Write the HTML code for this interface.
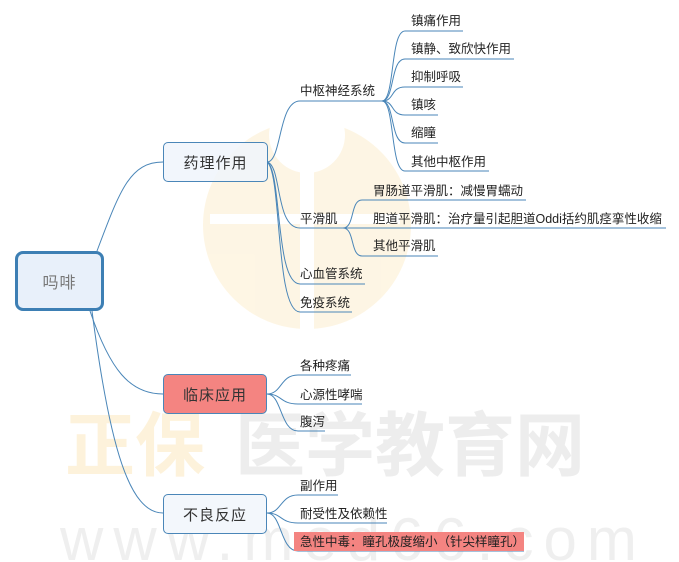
<!DOCTYPE html>
<html><head><meta charset="utf-8"><style>
body{margin:0;background:#fff;width:679px;height:562px;overflow:hidden;position:relative;font-family:"Liberation Sans","Noto Sans CJK SC",sans-serif}
.t{position:absolute;font-size:12.5px;color:#222;white-space:nowrap;line-height:16px}
.b{position:absolute;box-sizing:border-box;border:1px solid #4a86b8;border-radius:5px;font-size:15px;color:#333;display:flex;align-items:center;justify-content:center;letter-spacing:1px}
</style></head><body>
<svg width="679" height="562" style="position:absolute;left:0;top:0">
<g opacity="0.45">
<circle cx="307" cy="225" r="104" fill="#fcebc4"/>
<rect x="300" y="110" width="14" height="230" fill="#fff"/>
<rect x="210" y="214" width="190" height="10" fill="#fff"/>
<circle cx="307" cy="135" r="38" fill="#fff"/>
<text x="65" y="470" font-size="70" fill="#fbe3b0" font-family="Noto Sans CJK SC" font-weight="bold">正保</text>
<text x="235" y="470" font-size="70" fill="#d8d8d8" font-family="Noto Sans CJK SC" font-weight="bold">医学教育网</text>
<text x="60" y="560" font-size="60" fill="#dcdcdc" font-family="Liberation Sans" letter-spacing="10">www.med66.com</text>
</g>
<g fill="none" stroke="#4a86b8" stroke-width="1">
<path d="M97 251 C120 190,130 162,163 162"/>
<path d="M90 311 C110 370,130 394,163 394"/>
<path d="M92 311 C110 450,130 513,163 513"/>
<path d="M267 162 C282 162,278 101,300 101 L382 101"/>
<path d="M267 162 C282 165,275 228,300 228 L343 228"/>
<path d="M267 162 C282 170,275 284,300 284 L365 284"/>
<path d="M267 162 C282 172,275 312,300 312 L352 312"/>
<path d="M382 101 C395 101,390 31,405 31 L463 31"/>
<path d="M382 101 C395 101,390 59,405 59 L514 59"/>
<path d="M382 101 C395 101,390 87,405 87 L463 87"/>
<path d="M382 101 C395 101,390 115,405 115 L438 115"/>
<path d="M382 101 C395 101,390 143,405 143 L438 143"/>
<path d="M382 101 C395 101,390 171,405 171 L489 171"/>
<path d="M343 228 C355 228,350 200,362 200 L526 200"/>
<path d="M343 228 L666 228"/>
<path d="M343 228 C355 228,350 256,362 256 L438 256"/>
<path d="M267 394 C282 394,280 375,298 375 L351 375"/>
<path d="M267 394 C282 394,280 404,298 404 L362 404"/>
<path d="M267 394 C282 394,280 431,298 431 L325 431"/>
<path d="M267 513 C282 513,280 495,298 495 L338 495"/>
<path d="M267 513 C282 513,280 523,298 523 L387 523"/>
<path d="M267 513 C282 513,280 551,298 551 L524 551"/>
</g>
</svg>
<div class="b" style="left:15px;top:251px;width:89px;height:60px;border:3px solid #3d7fb4;border-radius:8px;background:#e8f0fa;color:#777;font-size:16px">吗啡</div>
<div class="b" style="left:163px;top:142px;width:105px;height:40px;background:rgba(240,245,252,0.85)">药理作用</div>
<div class="b" style="left:163px;top:374px;width:104px;height:40px;background:#f48481">临床应用</div>
<div class="b" style="left:163px;top:494px;width:104px;height:40px;background:#f3f7fc">不良反应</div>
<div style="position:absolute;left:294px;top:532px;width:230px;height:19px;background:#f48481"></div>
<div class="t" style="left:300px;top:83px">中枢神经系统</div>
<div class="t" style="left:300px;top:211px">平滑肌</div>
<div class="t" style="left:300px;top:266px">心血管系统</div>
<div class="t" style="left:300px;top:295px">免疫系统</div>
<div class="t" style="left:411px;top:13px">镇痛作用</div>
<div class="t" style="left:411px;top:41px">镇静、致欣快作用</div>
<div class="t" style="left:411px;top:69px">抑制呼吸</div>
<div class="t" style="left:411px;top:97px">镇咳</div>
<div class="t" style="left:411px;top:125px">缩瞳</div>
<div class="t" style="left:411px;top:154px">其他中枢作用</div>
<div class="t" style="left:373px;top:183px">胃肠道平滑肌：减慢胃蠕动</div>
<div class="t" style="left:373px;top:211px">胆道平滑肌：治疗量引起胆道Oddi括约肌痉挛性收缩</div>
<div class="t" style="left:373px;top:238px">其他平滑肌</div>
<div class="t" style="left:300px;top:358px">各种疼痛</div>
<div class="t" style="left:300px;top:387px">心源性哮喘</div>
<div class="t" style="left:300px;top:414px">腹泻</div>
<div class="t" style="left:300px;top:478px">副作用</div>
<div class="t" style="left:300px;top:506px">耐受性及依赖性</div>
<div class="t" style="left:300px;top:534px">急性中毒：瞳孔极度缩小（针尖样瞳孔）</div>
</body></html>
